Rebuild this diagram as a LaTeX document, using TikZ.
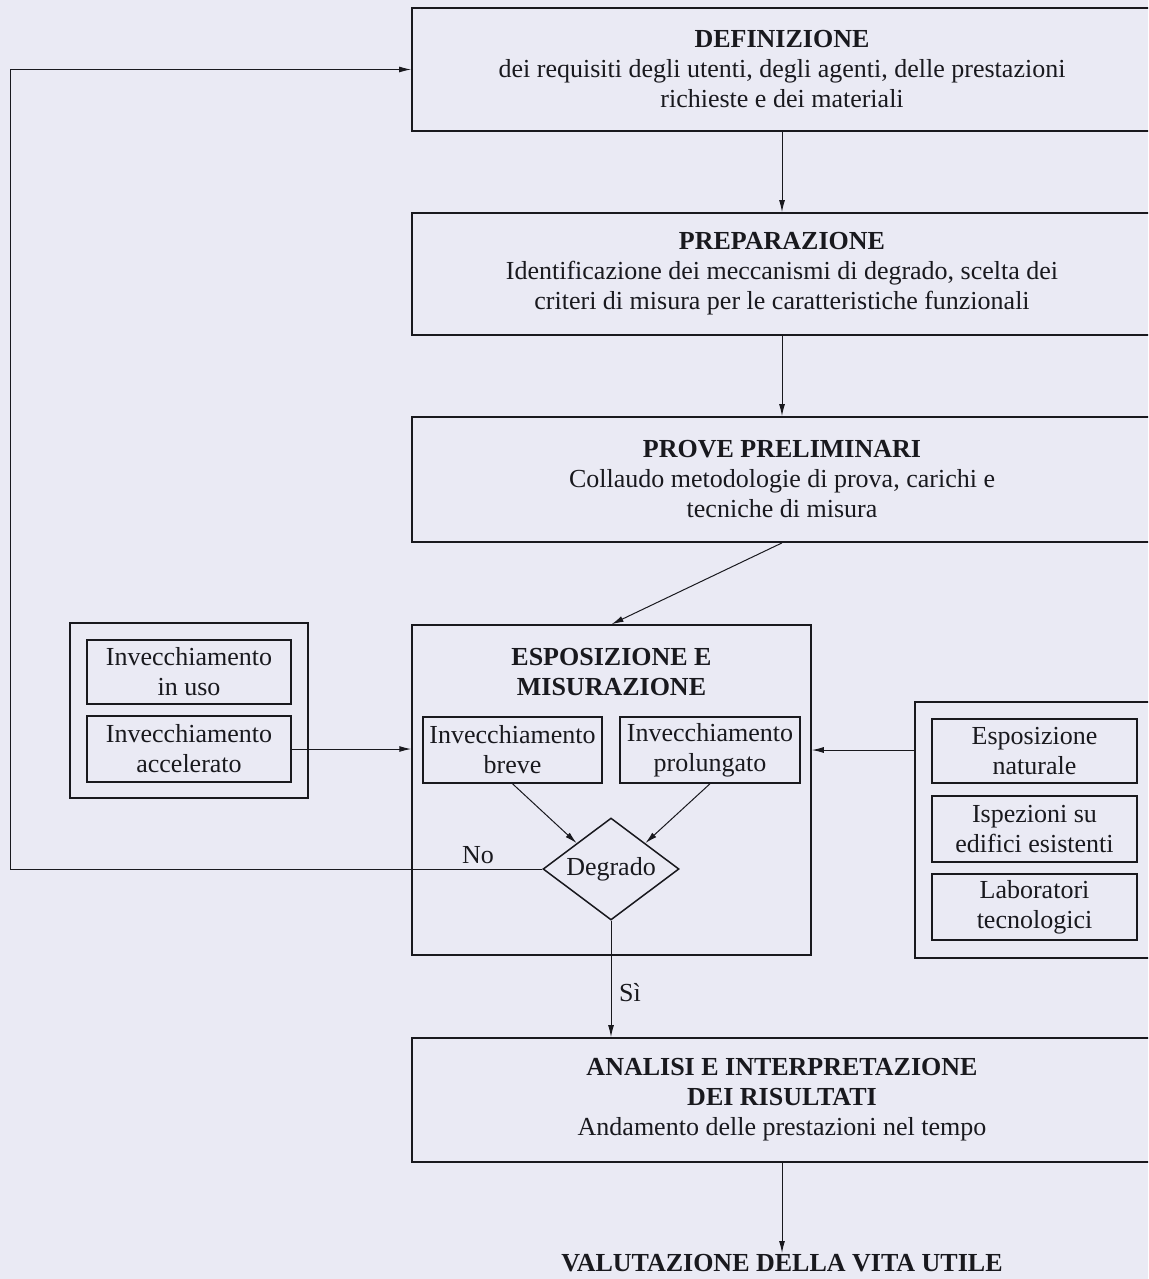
\documentclass[tikz,border=0pt]{standalone}
\usepackage{fontspec}
\setmainfont{Liberation Serif}
\usetikzlibrary{shapes.geometric,arrows.meta,calc}
\definecolor{bgcol}{RGB}{234,234,244}
\definecolor{inkcol}{RGB}{25,25,30}
\begin{document}
\begin{tikzpicture}[x=1pt,y=-1pt,
  every node/.style={font=\fontsize{26}{30}\selectfont, text=inkcol},
  bigbox/.style={draw=inkcol, line width=1.8pt, minimum width=740pt, align=center, inner sep=0pt},
  smallbox/.style={draw=inkcol, line width=1.5pt, align=center, inner sep=0pt},
  framebox/.style={draw=inkcol, line width=1.5pt, inner sep=0pt},
  conn/.style={draw=inkcol, line width=1pt, -{Latex[length=12pt,width=6pt]}},
  plain/.style={align=center, inner sep=1pt}]
\useasboundingbox (0,0) rectangle (1148,1279);
\fill[bgcol] (0,0) rectangle (1148,1279);
\clip (0,0) rectangle (1148,1279);

% main column boxes
\node[bigbox, minimum height=123pt] (def) at (782,69.5)
  {\textbf{DEFINIZIONE}\\dei requisiti degli utenti, degli agenti, delle prestazioni\\richieste e dei materiali};
\node[bigbox, minimum height=122pt] (prep) at (782,274)
  {\textbf{PREPARAZIONE}\\Identificazione dei meccanismi di degrado, scelta dei\\criteri di misura per le caratteristiche funzionali};
\node[bigbox, minimum height=125pt] (prove) at (782,479.5)
  {\textbf{PROVE PRELIMINARI}\\Collaudo metodologie di prova, carichi e\\tecniche di misura};
\node[bigbox, minimum height=124pt] (ana) at (782,1100)
  {\textbf{ANALISI E INTERPRETAZIONE}\\\textbf{DEI RISULTATI}\\Andamento delle prestazioni nel tempo};
\node[plain] (val) at (782,1263) {\textbf{VALUTAZIONE DELLA VITA UTILE}};

% exposure block
\node[framebox, minimum width=399pt, minimum height=330pt] (espo) at (611.5,790) {};
\node[plain] (espoT) at (611.5,672) {\textbf{ESPOSIZIONE E}\\\textbf{MISURAZIONE}};
\node[smallbox, minimum width=179pt, minimum height=66pt] (breve) at (512.5,750) {Invecchiamento\\breve};
\node[smallbox, minimum width=180pt, minimum height=66pt] (prol) at (710,750) {Invecchiamento\\prolungato};
\node[draw=inkcol, line width=1.5pt, shape=diamond, minimum width=136pt, minimum height=102pt, inner sep=0pt,
  label={[inner sep=0pt]center:Degrado}] (deg) at (611,869) {};

% left block
\node[framebox, minimum width=238pt, minimum height=175pt] (lout) at (189,710.5) {};
\node[smallbox, minimum width=204pt, minimum height=64pt] (uso) at (189,672) {Invecchiamento\\in uso};
\node[smallbox, minimum width=204pt, minimum height=66pt] (acc) at (189,749) {Invecchiamento\\accelerato};

% right block
\node[framebox, minimum width=250pt, minimum height=256pt] (rout) at (1040,830) {};
\node[smallbox, minimum width=205pt, minimum height=64pt] (esn) at (1034.5,751) {Esposizione\\naturale};
\node[smallbox, minimum width=205pt, minimum height=66pt] (isp) at (1034.5,829) {Ispezioni su\\edifici esistenti};
\node[smallbox, minimum width=205pt, minimum height=66pt] (lab) at (1034.5,907) {Laboratori\\tecnologici};

% labels
\node[plain] (no) at (478,855) {No};
\node[plain] (si) at (630,993) {Sì};
\coordinate (loop) at (10,869);

% connectors
\draw[conn] (def.south) -- (prep.north);
\draw[conn] (prep.south) -- (prove.north);
\draw[conn] (prove.south) -- (espo.north);
\draw[conn] (acc.east) -- (acc.east -| espo.west);
\draw[conn] (rout.west |- prol.east) -- (prol.east -| espo.east);
\draw[conn] (breve.south) -- (deg.north west);
\draw[conn] (prol.south) -- (deg.north east);
\draw[conn] (deg.west) -- (loop) |- (def.west);
\draw[conn] (deg.south) -- (deg.south |- ana.north);
\draw[conn] (ana.south) -- (val.north);
\end{tikzpicture}
\end{document}
